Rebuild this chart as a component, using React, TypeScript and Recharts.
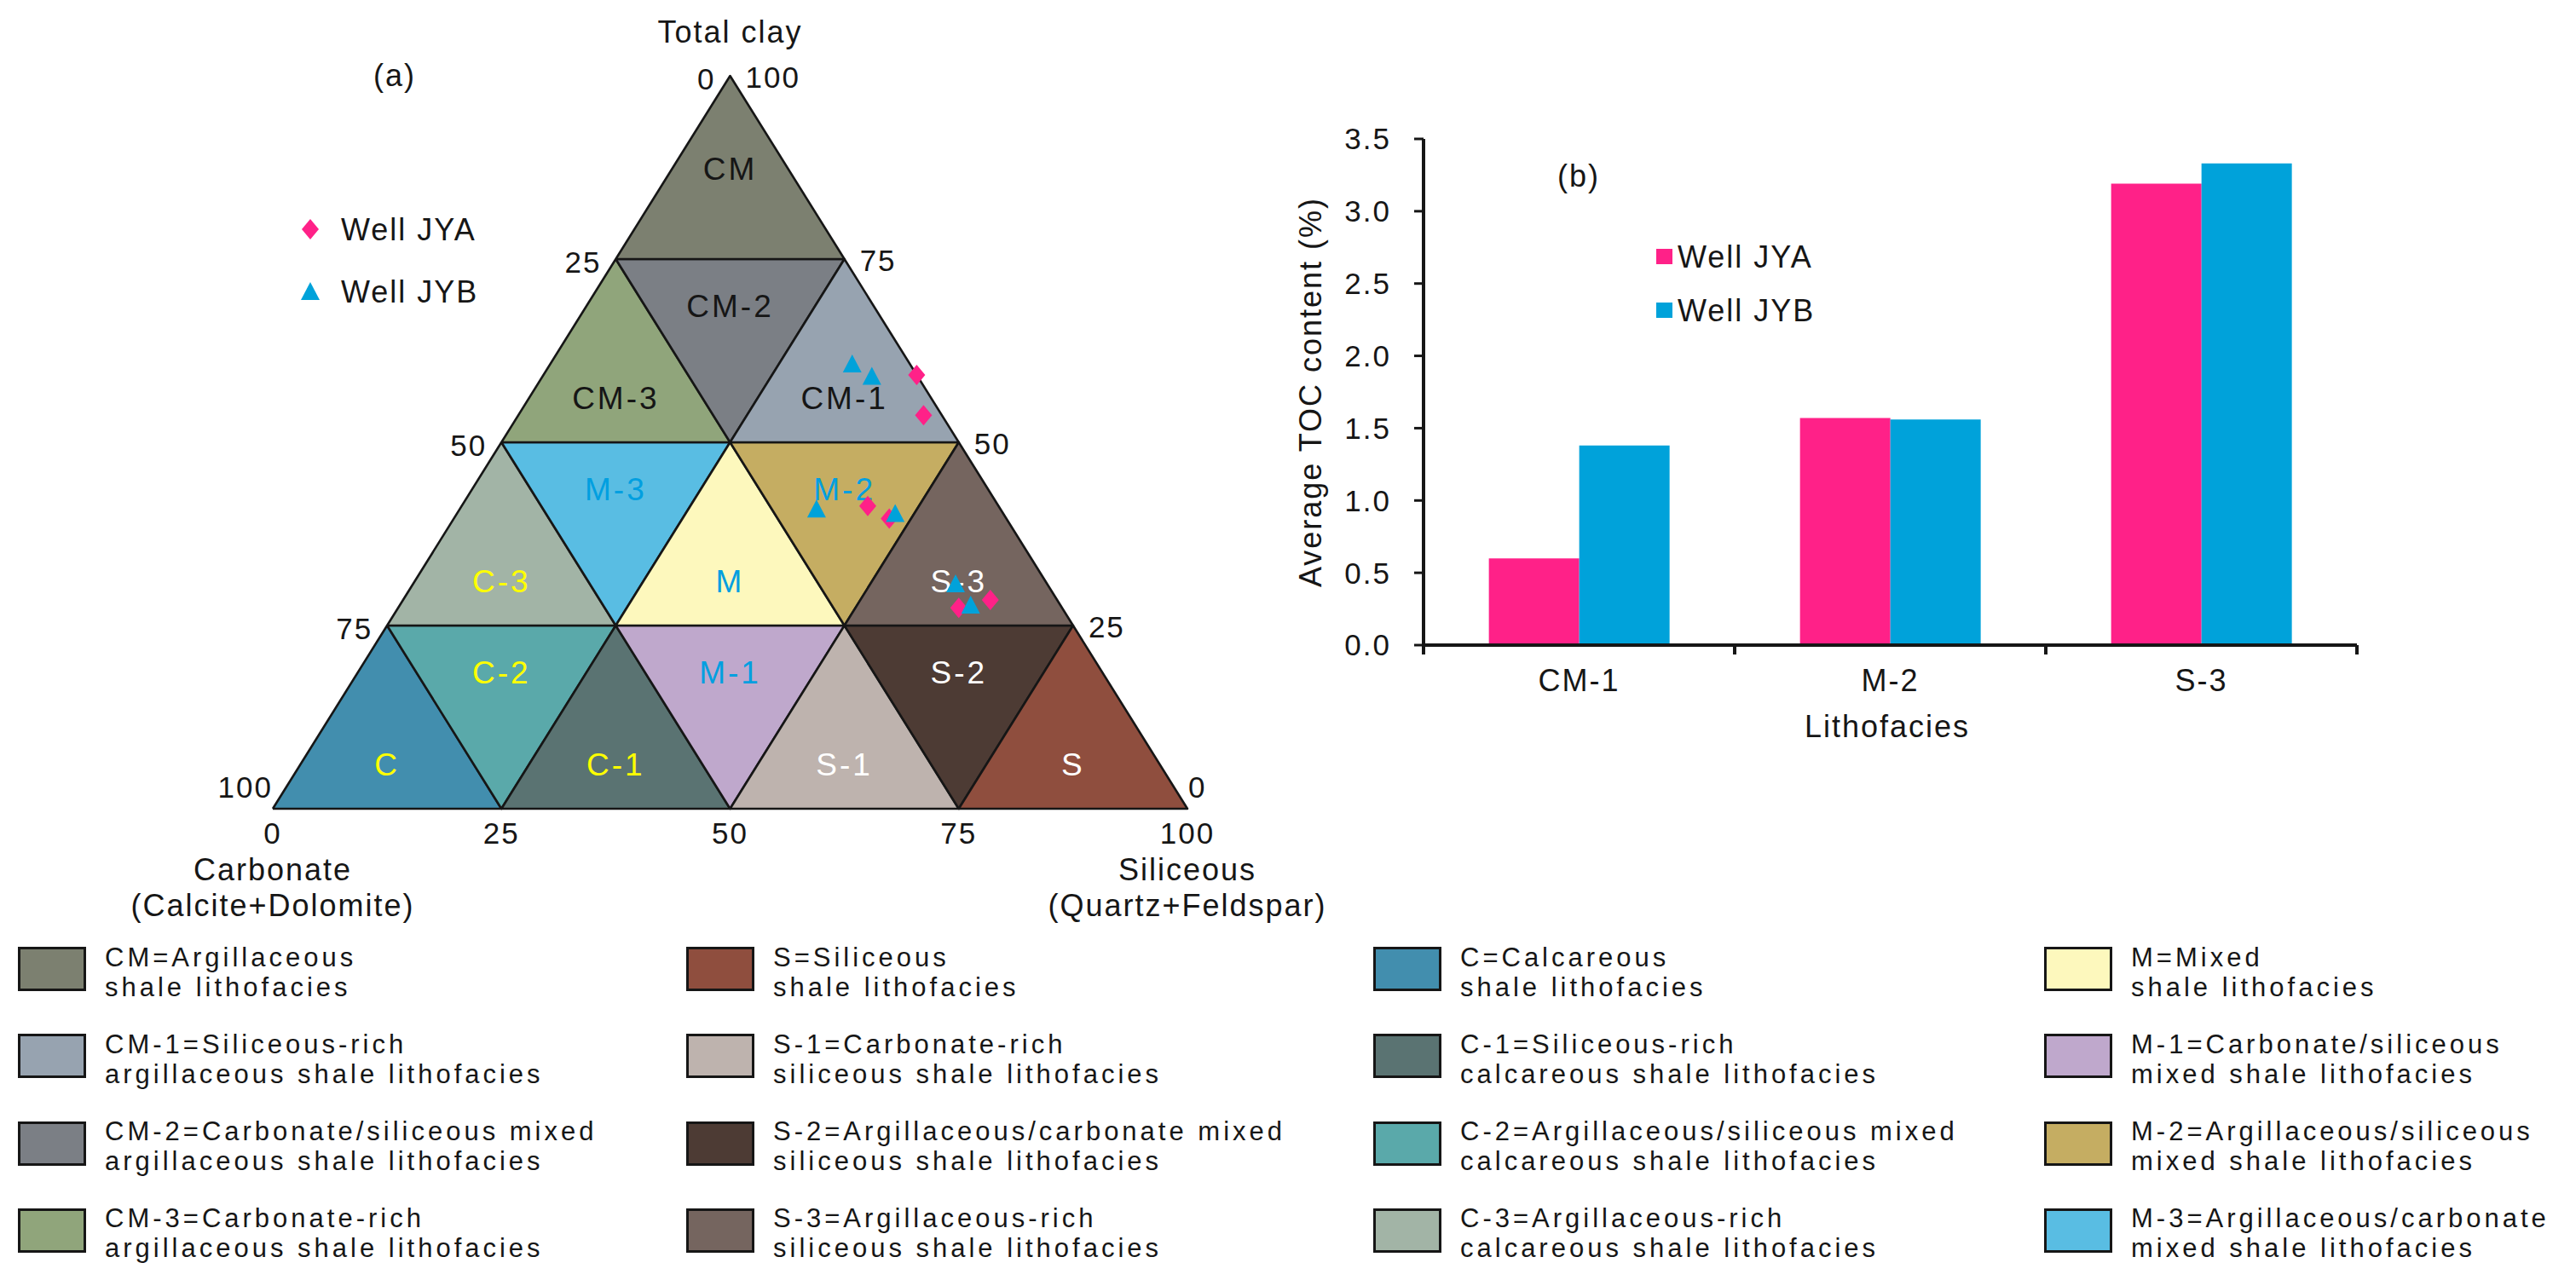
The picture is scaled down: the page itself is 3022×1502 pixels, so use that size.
import React from 'react';
import { ScatterChart, Scatter, XAxis, YAxis, BarChart, Bar } from 'recharts';

const FONT = '"Liberation Sans", Arial, Helvetica, sans-serif';
const INK = '#161616';
const PINK = '#ff2188';
const BLUE = '#00a2da';

// ternary sub-fields, corners given as [siliceous %, total clay %]
const regionNames = ['C', 'C-2', 'C-1', 'M-1', 'S-1', 'S-2', 'S', 'C-3', 'M-3', 'M', 'M-2', 'S-3', 'CM-3', 'CM-2', 'CM-1', 'CM'];
const regionCorners: number[][][] = [
  [[0, 0], [25, 0], [0, 25]],
  [[0, 25], [25, 25], [25, 0]],
  [[25, 0], [50, 0], [25, 25]],
  [[25, 25], [50, 25], [50, 0]],
  [[50, 0], [75, 0], [50, 25]],
  [[50, 25], [75, 25], [75, 0]],
  [[75, 0], [100, 0], [75, 25]],
  [[0, 25], [25, 25], [0, 50]],
  [[0, 50], [25, 50], [25, 25]],
  [[25, 25], [50, 25], [25, 50]],
  [[25, 50], [50, 50], [50, 25]],
  [[50, 25], [75, 25], [50, 50]],
  [[0, 50], [25, 50], [0, 75]],
  [[0, 75], [25, 75], [25, 50]],
  [[25, 50], [50, 50], [25, 75]],
  [[0, 75], [25, 75], [0, 100]],
];
// clay level where each field's name sits
const regionLabelClay = [6, 18.5, 6, 18.5, 6, 18.5, 6, 31, 43.5, 31, 43.5, 31, 56, 68.5, 56, 87.3];

const regionFill: Record<string, string> = {
  CM: '#7c8070', 'CM-1': '#97a3b0', 'CM-2': '#7b7f85', 'CM-3': '#90a57b',
  S: '#8f4e3e', 'S-1': '#beb3ae', 'S-2': '#4d3b34', 'S-3': '#75655f',
  C: '#428eae', 'C-1': '#5a7372', 'C-2': '#5aa9aa', 'C-3': '#a2b4a6',
  M: '#fdf8bd', 'M-1': '#bfa8cc', 'M-2': '#c5ad62', 'M-3': '#59bde3',
};
const labelColor: Record<string, string> = { CM: INK, S: '#ffffff', C: '#ffff00', M: '#009fe0' };

// sample compositions (siliceous %, total clay %)
const jyaSiliceous = [40.8, 44.3, 44.4, 47.6, 64.2, 61.3];
const jyaClay = [59.2, 53.7, 41.3, 39.6, 28.5, 27.4];
const jybSiliceous = [33.0, 36.0, 39.0, 47.9, 59.3, 62.4];
const jybClay = [60.7, 59.0, 40.9, 40.3, 30.7, 27.8];

const carbonateTicks = [0, 25, 50, 75, 100];
const clayTicks = [100, 75, 50, 25, 0];
const siliceousTicks = [0, 25, 50, 75, 100];

const vertexTitles = ['Total clay', 'Carbonate', 'Siliceous'];
const vertexSubtitles = ['', '(Calcite+Dolomite)', '(Quartz+Feldspar)'];
const vertexSiliceous = [0, 0, 100];
const vertexClay = [100, 0, 0];

// bar chart (b)
const lithofacies = ['CM-1', 'M-2', 'S-3'];
const tocJYA = [0.6, 1.57, 3.19];
const tocJYB = [1.38, 1.56, 3.33];
const tocTicks = [0, 0.5, 1, 1.5, 2, 2.5, 3, 3.5];

// legend below
const legendColumns = [
  ['CM', 'CM-1', 'CM-2', 'CM-3'],
  ['S', 'S-1', 'S-2', 'S-3'],
  ['C', 'C-1', 'C-2', 'C-3'],
  ['M', 'M-1', 'M-2', 'M-3'],
];
const legendText: Record<string, string[]> = {
  CM: ['CM=Argillaceous', 'shale lithofacies'],
  'CM-1': ['CM-1=Siliceous-rich', 'argillaceous shale lithofacies'],
  'CM-2': ['CM-2=Carbonate/siliceous mixed', 'argillaceous shale lithofacies'],
  'CM-3': ['CM-3=Carbonate-rich', 'argillaceous shale lithofacies'],
  S: ['S=Siliceous', 'shale lithofacies'],
  'S-1': ['S-1=Carbonate-rich', 'siliceous shale lithofacies'],
  'S-2': ['S-2=Argillaceous/carbonate mixed', 'siliceous shale lithofacies'],
  'S-3': ['S-3=Argillaceous-rich', 'siliceous shale lithofacies'],
  C: ['C=Calcareous', 'shale lithofacies'],
  'C-1': ['C-1=Siliceous-rich', 'calcareous shale lithofacies'],
  'C-2': ['C-2=Argillaceous/siliceous mixed', 'calcareous shale lithofacies'],
  'C-3': ['C-3=Argillaceous-rich', 'calcareous shale lithofacies'],
  M: ['M=Mixed', 'shale lithofacies'],
  'M-1': ['M-1=Carbonate/siliceous', 'mixed shale lithofacies'],
  'M-2': ['M-2=Argillaceous/siliceous', 'mixed shale lithofacies'],
  'M-3': ['M-3=Argillaceous/carbonate', 'mixed shale lithofacies'],
};

const toXY = (si: number, clay: number) => ({ x: si + clay / 2, y: clay });

const textStyle = { fontFamily: FONT, fill: INK };

const Hidden = () => <g />;

const RegionLabel = (p: any) => (
  <text x={p.cx} y={p.cy} textAnchor="middle" dominantBaseline="central" fontSize={37}
    letterSpacing={3} fontFamily={FONT} fill={p.payload.color}>{p.payload.name}</text>
);

const TickText = (p: any) => {
  const { kind, value } = p.payload;
  let x = p.cx, y = p.cy, anchor = 'middle';
  if (kind === 'left') {
    anchor = 'end';
    if (value === 100) { y -= 26; } else { x -= 17; y += 3; }
  } else if (kind === 'right') {
    anchor = 'start';
    if (value === 0) { x += 1; y -= 26; } else { x += 18; y += 1; }
  } else {
    y += 28;
  }
  return (
    <text x={x} y={y} textAnchor={anchor} dominantBaseline="central" fontSize={35} letterSpacing={2} {...textStyle}>
      {value}
    </text>
  );
};

const VertexTitle = (p: any) => {
  const { title, sub } = p.payload;
  if (!sub) {
    return <text x={p.cx} y={p.cy - 52} textAnchor="middle" dominantBaseline="central" fontSize={36} letterSpacing={2} {...textStyle}>{title}</text>;
  }
  return (
    <g>
      <text x={p.cx} y={p.cy + 71} textAnchor="middle" dominantBaseline="central" fontSize={36} letterSpacing={2} {...textStyle}>{title}</text>
      <text x={p.cx} y={p.cy + 113} textAnchor="middle" dominantBaseline="central" fontSize={36} letterSpacing={2} {...textStyle}>{sub}</text>
    </g>
  );
};

const DiamondMark = (p: any) => (
  <polygon points={`${p.cx},${p.cy - 12} ${p.cx + 10},${p.cy} ${p.cx},${p.cy + 12} ${p.cx - 10},${p.cy}`} fill={PINK} />
);
const TriangleMark = (p: any) => (
  <polygon points={`${p.cx},${p.cy - 11} ${p.cx + 11},${p.cy + 10} ${p.cx - 11},${p.cy + 10}`} fill={BLUE} />
);

const CategoryTick = (p: any) => {
  const { x, y, payload, index, visibleTicksCount, width } = p;
  const half = payload.offset || (width ? width / (2 * visibleTicksCount) : 182.5);
  return (
    <g>
      <line x1={x - half} y1={y} x2={x - half} y2={y + 11} stroke={INK} strokeWidth={4} />
      {index === visibleTicksCount - 1 && (
        <line x1={x + half} y1={y} x2={x + half} y2={y + 11} stroke={INK} strokeWidth={4} />
      )}
      <text x={x} y={y + 54} textAnchor="middle" fontSize={36} letterSpacing={2} {...textStyle}>{payload.value}</text>
    </g>
  );
};

const Ternary = () => {
  const labelPoints = regionNames.map((name, i) => {
    const pts = regionCorners[i].map(([s, c]) => toXY(s, c));
    const cx = (pts[0].x + pts[1].x + pts[2].x) / 3;
    return { x: cx, y: regionLabelClay[i], name, color: labelColor[name.split('-')[0]] };
  });
  const tickPoints = [
    ...carbonateTicks.map((v) => ({ ...toXY(0, 100 - v), kind: 'left', value: v })),
    ...clayTicks.map((v) => ({ ...toXY(100 - v, v), kind: 'right', value: v })),
    ...siliceousTicks.map((v) => ({ ...toXY(v, 0), kind: 'bottom', value: v })),
  ];
  const vertexPoints = vertexTitles.map((t, i) => ({ ...toXY(vertexSiliceous[i], vertexClay[i]), title: t, sub: vertexSubtitles[i] }));
  const jya = jyaSiliceous.map((s, i) => toXY(s, jyaClay[i]));
  const jyb = jybSiliceous.map((s, i) => toXY(s, jybClay[i]));

  return (
    <ScatterChart width={1700} height={1100} margin={{ top: 89, right: 307, bottom: 151, left: 320 }} style={{ overflow: 'visible' }}>
      <XAxis type="number" dataKey="x" domain={[0, 100]} hide />
      <YAxis type="number" dataKey="y" domain={[0, 100]} hide />
      {regionNames.map((name, i) => {
        const pts = regionCorners[i].map(([s, c]) => toXY(s, c));
        return (
          <Scatter key={name} data={[...pts, pts[0]]} lineType="joint"
            line={{ fill: regionFill[name], stroke: INK, strokeWidth: 2.6, strokeLinejoin: 'round' }}
            shape={Hidden} isAnimationActive={false} />
        );
      })}
      <Scatter data={labelPoints} shape={RegionLabel} isAnimationActive={false} />
      <Scatter data={tickPoints} shape={TickText} isAnimationActive={false} />
      <Scatter data={vertexPoints} shape={VertexTitle} isAnimationActive={false} />
      <Scatter data={jya} shape={DiamondMark} isAnimationActive={false} />
      <Scatter data={jyb} shape={TriangleMark} isAnimationActive={false} />
    </ScatterChart>
  );
};

const TocBars = () => {
  const data = lithofacies.map((name, i) => ({ name, jya: tocJYA[i], jyb: tocJYB[i] }));
  return (
    <BarChart width={1400} height={800} data={data} margin={{ top: 63, right: 115, bottom: 0, left: 0 }}
      barCategoryGap="21%" barGap={0}>
      <XAxis dataKey="name" height={143} interval={0} tickLine={false} tickSize={0} tickMargin={0}
        axisLine={{ stroke: INK, strokeWidth: 4 }} tick={<CategoryTick />} />
      <YAxis width={190} domain={[0, 3.5]} ticks={tocTicks} interval={0} tickSize={11} tickMargin={27}
        tickFormatter={(v: number) => v.toFixed(1)}
        axisLine={{ stroke: INK, strokeWidth: 4 }} tickLine={{ stroke: INK, strokeWidth: 3 }}
        tick={{ fill: INK, fontSize: 35, fontFamily: FONT, letterSpacing: 2 }} />
      <Bar dataKey="jya" fill={PINK} isAnimationActive={false} />
      <Bar dataKey="jyb" fill={BLUE} isAnimationActive={false} />
    </BarChart>
  );
};

const LegendGrid = () => {
  const colX = [21, 805, 1611, 2398];
  return (
    <>
      {legendColumns.map((col, ci) =>
        col.map((name, ri) => {
          const top = 1111 + ri * 102.3;
          return (
            <div key={name}>
              <div style={{
                position: 'absolute', left: colX[ci], top, width: 80, height: 52, boxSizing: 'border-box',
                background: regionFill[name], border: `3px solid ${INK}`,
              }} />
              <div style={{
                position: 'absolute', left: colX[ci] + 102, top: top - 5.5, fontSize: 31, lineHeight: '35px',
                letterSpacing: 4, color: INK, whiteSpace: 'nowrap', fontFamily: FONT,
              }}>
                {legendText[name][0]}<br />{legendText[name][1]}
              </div>
            </div>
          );
        })
      )}
    </>
  );
};

export default function App() {
  return (
    <div style={{ position: 'absolute', left: 0, top: 0, width: 3022, height: 1502, background: '#ffffff', overflow: 'hidden', fontFamily: FONT }}>
      <div style={{ position: 'absolute', left: 0, top: 0 }}>
        <Ternary />
      </div>
      <div style={{ position: 'absolute', left: 1480, top: 100 }}>
        <TocBars />
      </div>
      <svg width={3022} height={1100} style={{ position: 'absolute', left: 0, top: 0, pointerEvents: 'none' }}>
        <text x={463} y={88} textAnchor="middle" dominantBaseline="central" fontSize={36} letterSpacing={2} {...textStyle}>(a)</text>
        <polygon points="364,257 374,269 364,281 354,269" fill={PINK} />
        <text x={400} y={269} dominantBaseline="central" fontSize={36} letterSpacing={2} {...textStyle}>Well JYA</text>
        <polygon points="364,331 375,352 353,352" fill={BLUE} />
        <text x={400} y={342} dominantBaseline="central" fontSize={36} letterSpacing={2} {...textStyle}>Well JYB</text>

        <text x={1852} y={206} textAnchor="middle" dominantBaseline="central" fontSize={36} letterSpacing={2} {...textStyle}>(b)</text>
        <rect x={1943} y={292} width={19} height={18} fill={PINK} />
        <text x={1968} y={301} dominantBaseline="central" fontSize={36} letterSpacing={2} {...textStyle}>Well JYA</text>
        <rect x={1943} y={355} width={19} height={18} fill={BLUE} />
        <text x={1968} y={364} dominantBaseline="central" fontSize={36} letterSpacing={2} {...textStyle}>Well JYB</text>
        <text transform="translate(1537,460) rotate(-90)" textAnchor="middle" dominantBaseline="central" fontSize={36} letterSpacing={2} {...textStyle}>
          Average TOC content (%)
        </text>
        <text x={2214} y={852} textAnchor="middle" dominantBaseline="central" fontSize={36} letterSpacing={2} {...textStyle}>Lithofacies</text>
      </svg>
      <LegendGrid />
    </div>
  );
}
